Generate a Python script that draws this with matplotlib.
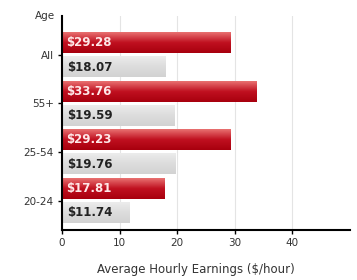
import matplotlib
matplotlib.use("Agg")
import matplotlib.pyplot as plt
from matplotlib.colors import LinearSegmentedColormap
import numpy as np

# data
ages = ["All", "55+", "25-54", "20-24"]
red_vals = [29.28, 33.76, 29.23, 17.81]
gray_vals = [18.07, 19.59, 19.76, 11.74]
xticks = [0, 10, 20, 30, 40]

plt.rcParams['font.family'] = ['DejaVu Sans']

fig = plt.figure(figsize=(3.57, 2.80), dpi=100)
ax = fig.add_axes([0.174, 0.179, 0.806, 0.764])

pos = np.arange(len(ages))[::-1]
h = 0.42
off = 0.25

red_cm = LinearSegmentedColormap.from_list("r", ["#a8000e", "#c01020", "#e87070"])
gray_cm = LinearSegmentedColormap.from_list("g", ["#d2d2d2", "#dcdcdc", "#ececec"])
grad = np.linspace(0, 1, 50).reshape(-1, 1)

for p, rv, gv in zip(pos, red_vals, gray_vals):
    y0 = p + off - h / 2
    ax.imshow(grad, extent=[0, rv, y0, y0 + h], origin="lower", cmap=red_cm,
              aspect="auto", zorder=2)
    ax.text(0.7, p + off, "$%.2f" % rv, color="#ffe8e8", fontsize=8.5,
            fontweight="bold", va="center", ha="left", zorder=3)
    y1 = p - off - h / 2
    ax.imshow(grad, extent=[0, gv, y1, y1 + h], origin="lower", cmap=gray_cm,
              aspect="auto", zorder=2)
    ax.text(0.9, p - off, "$%.2f" % gv, color="#222222", fontsize=8.5,
            fontweight="bold", va="center", ha="left", zorder=3)

ax.set_xlim(0, 50)
ax.set_ylim(-0.6, 3.8)
ax.set_yticks(pos)
ax.set_yticklabels(ages, fontsize=7.5, color="#333333")
ax.set_xticks(xticks)
ax.set_xticklabels([str(t) for t in xticks], fontsize=7.5, color="#333333")
ax.tick_params(length=3, width=1, pad=3)
ax.grid(axis="x", color="#e4e4e4", linewidth=0.8, zorder=0)
ax.set_axisbelow(True)
for s in ["top", "right"]:
    ax.spines[s].set_visible(False)
ax.spines["left"].set_linewidth(1.5)
ax.spines["bottom"].set_linewidth(1.5)

fig.text(45 / 357, 1 - 16 / 280, "Age", fontsize=7.5, color="#333333",
         ha="center", va="center")
fig.text(97 / 357, 1 - 270 / 280, "Average Hourly Earnings ($/hour)",
         fontsize=8.5, color="#333333", ha="left", va="center")

fig.savefig("out.png", dpi=100)
